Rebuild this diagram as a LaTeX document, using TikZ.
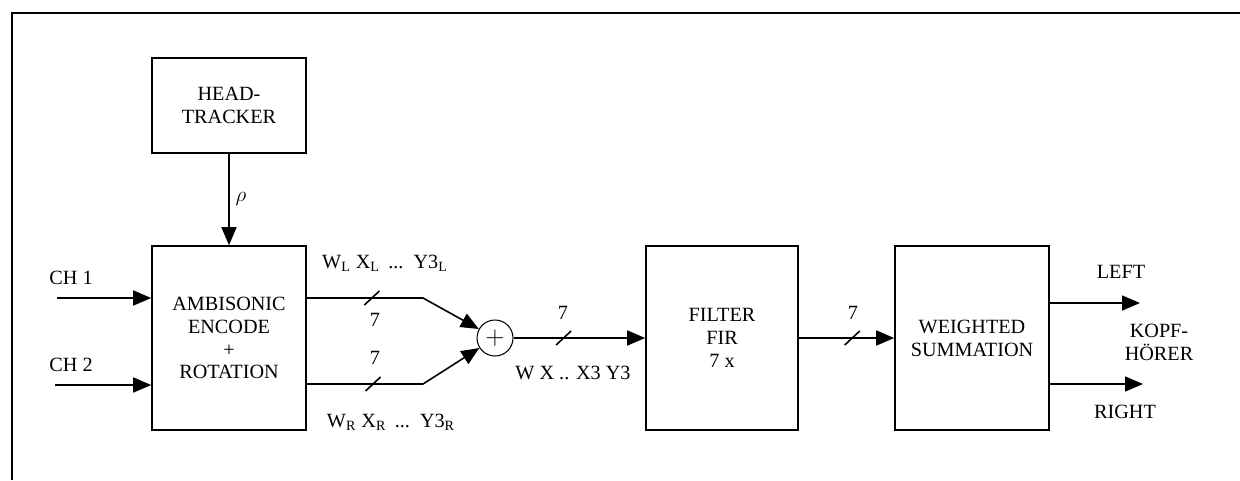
\documentclass[tikz,border=0pt]{standalone}
\usepackage{fontspec}
\setmainfont{Liberation Serif}
\usetikzlibrary{arrows.meta,positioning}

\begin{document}
\begin{tikzpicture}[
    comp/.style={rectangle, draw=black, line width=0.9pt, align=center, inner sep=2pt},
    sum/.style={circle, draw=black, line width=0.6pt, minimum size=0.72cm, inner sep=0pt, font=\Large},
    lbl/.style={inner sep=1pt, align=center},
    font=\fontsize{11.5}{13}\selectfont,
    >={Triangle[length=0.36cm, width=0.3cm]},
    line width=0.9pt
    ]
    \useasboundingbox (0,0) rectangle (24.8,-9.6);
    \draw[line width=1.2pt] (0.24,-9.6) -- (0.24,-0.26) -- (24.8,-0.26);

    \node[comp, minimum width=3.08cm, minimum height=1.9cm] (tracker) at (4.58,-2.11) {HEAD-\\TRACKER};
    \node[comp, minimum width=3.08cm, minimum height=3.68cm] (encode) at (4.58,-6.76) {AMBISONIC\\ENCODE\\+\\ROTATION};
    \node[sum] (adder) at (9.9,-6.76) {$+$};
    \node[comp, minimum width=3.04cm, minimum height=3.68cm] (fir) at (14.44,-6.76) {FILTER\\FIR\\7 x};
    \node[comp, minimum width=3.08cm, minimum height=3.68cm] (wsum) at (19.44,-6.76) {WEIGHTED\\SUMMATION};

    \coordinate (ch1) at (1.14,-5.96);
    \coordinate (ch2) at (1.1,-7.7);
    \coordinate (bendL) at (8.46,-5.96);
    \coordinate (bendR) at (8.46,-7.68);
    \coordinate (left) at (22.8,-6.06);
    \coordinate (right) at (22.86,-7.68);

    \draw[->] (tracker.south) -- (encode.north) node[midway, right] {$\rho$};
    \draw[->] (ch1) -- (encode.west |- ch1);
    \draw[->] (ch2) -- (encode.west |- ch2);
    \draw[->] (encode.east |- bendL) -- coordinate[pos=0.56] (slashL) (bendL) -- (adder);
    \draw[->] (encode.east |- bendR) -- coordinate[pos=0.57] (slashR) (bendR) -- (adder);
    \draw[->] (adder.east) -- coordinate[pos=0.38] (slashS) (fir.west);
    \draw[->] (fir.east) -- coordinate[pos=0.56] (slashW) (wsum.west);
    \draw[->] (wsum.east |- left) -- (left);
    \draw[->] (wsum.east |- right) -- (right);

    % bus width marks
    \draw ([shift={(-0.15,-0.14)}]slashL) -- ([shift={(0.15,0.14)}]slashL);
    \draw ([shift={(-0.15,-0.14)}]slashR) -- ([shift={(0.15,0.14)}]slashR);
    \draw ([shift={(-0.15,-0.14)}]slashS) -- ([shift={(0.15,0.14)}]slashS);
    \draw ([shift={(-0.15,-0.14)}]slashW) -- ([shift={(0.15,0.14)}]slashW);

    \node[lbl] (ch1txt) at (1.42,-5.56) {CH 1};
    \node[lbl] (ch2txt) at (1.42,-7.3) {CH 2};
    \node[lbl] (wl) at (7.7,-5.26) {W\textsubscript{L} X\textsubscript{L} \,...\, Y3\textsubscript{L}};
    \node[lbl] (nl) at (7.5,-6.4) {7};
    \node[lbl] (nr) at (7.5,-7.16) {7};
    \node[lbl] (wr) at (7.82,-8.44) {W\textsubscript{R} X\textsubscript{R} \,...\, Y3\textsubscript{R}};
    \node[lbl] (ns) at (11.26,-6.26) {7};
    \node[lbl] (wx) at (11.46,-7.46) {W X .. X3 Y3};
    \node[lbl] (nw) at (17.06,-6.26) {7};
    \node[lbl] (lefttxt) at (22.42,-5.44) {LEFT};
    \node[lbl] (righttxt) at (22.5,-8.24) {RIGHT};
    \node[lbl] (kopf) at (23.18,-6.84) {KOPF-\\HÖRER};
\end{tikzpicture}
\end{document}
